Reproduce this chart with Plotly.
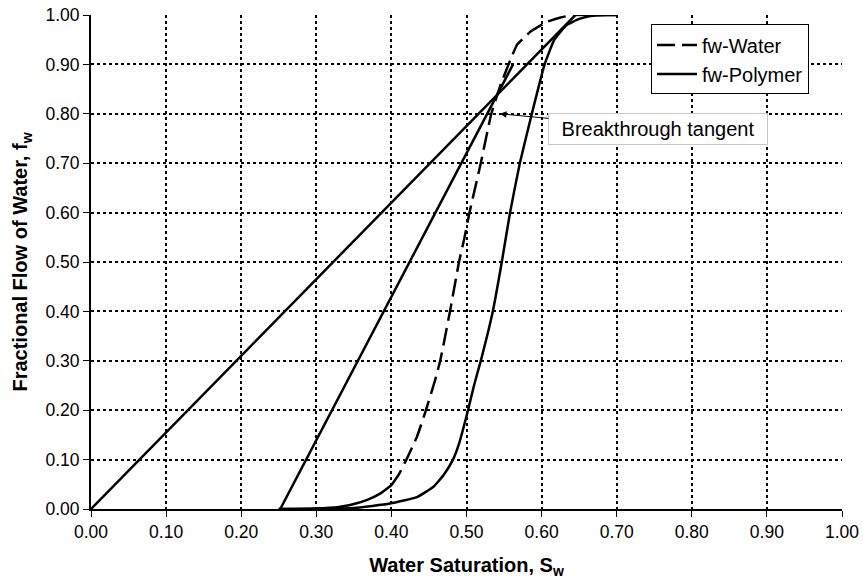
import plotly.graph_objects as go

# Water fractional flow curve
sw_water = [0.25, 0.30, 0.33, 0.345, 0.367, 0.385, 0.400, 0.410, 0.420, 0.434, 0.446,
            0.458, 0.465, 0.471, 0.478, 0.490, 0.497, 0.504, 0.519, 0.533, 0.545,
            0.556, 0.567, 0.585, 0.607, 0.625, 0.642, 0.70]
fw_water = [0.000, 0.001, 0.004, 0.008, 0.018, 0.031, 0.048, 0.070, 0.100, 0.146, 0.200,
            0.260, 0.300, 0.345, 0.400, 0.500, 0.547, 0.600, 0.700, 0.800, 0.857,
            0.900, 0.939, 0.966, 0.986, 0.995, 1.000, 1.000]

# Polymer fractional flow curve
sw_poly = [0.25, 0.35, 0.398, 0.434, 0.456, 0.470, 0.482, 0.490, 0.502, 0.510, 0.519,
           0.535, 0.547, 0.558, 0.571, 0.587, 0.604, 0.617, 0.633, 0.650, 0.665, 0.687, 0.70]
fw_poly = [0.000, 0.002, 0.011, 0.024, 0.045, 0.070, 0.100, 0.132, 0.200, 0.250, 0.300,
           0.400, 0.500, 0.600, 0.700, 0.800, 0.900, 0.950, 0.979, 0.992, 0.998, 1.000, 1.000]

# Tangent lines
sw_tan_poly = [0.0, 0.645]
fw_tan_poly = [0.0, 1.0]
sw_tan_water = [0.252, 0.562]
fw_tan_water = [0.0, 0.90]

# Annotation target
bt_point = (0.5446, 0.800)

FONT = "Liberation Sans, Arial, sans-serif"
# in the original the flat toe of the water curve renders as a continuous stroke
TOE_END = 7

fig = go.Figure()
fig.add_trace(go.Scatter(x=sw_tan_poly, y=fw_tan_poly, mode="lines",
                         line=dict(color="black", width=2.5), showlegend=False, hoverinfo="skip"))
fig.add_trace(go.Scatter(x=sw_tan_water, y=fw_tan_water, mode="lines",
                         line=dict(color="black", width=2.5), showlegend=False, hoverinfo="skip"))
fig.add_trace(go.Scatter(x=sw_water[:TOE_END], y=fw_water[:TOE_END], mode="lines",
                         line=dict(color="black", width=2.5, shape="spline", smoothing=0.3),
                         showlegend=False, hoverinfo="skip"))
fig.add_trace(go.Scatter(x=sw_water[TOE_END - 1:], y=fw_water[TOE_END - 1:], mode="lines", name="fw-Water",
                         line=dict(color="black", width=2.5, dash="18px,7px", shape="spline", smoothing=0.3)))
fig.add_trace(go.Scatter(x=sw_poly, y=fw_poly, mode="lines", name="fw-Polymer",
                         line=dict(color="black", width=2.5, shape="spline", smoothing=0.4)))

fig.add_annotation(x=bt_point[0], y=bt_point[1], xref="x", yref="y",
                   text="Breakthrough tangent", showarrow=True,
                   ax=158, ay=15, axref="pixel", ayref="pixel",
                   arrowhead=2, arrowsize=1.3, arrowwidth=1, arrowcolor="black",
                   font=dict(family=FONT, size=20, color="black"),
                   bgcolor="white", bordercolor="#c8c8c8", borderwidth=1, borderpad=4,
                   width=210)

axis_common = dict(range=[0, 1], dtick=0.1, tick0=0, tickformat=".2f",
                   showgrid=True, gridcolor="black", gridwidth=2, griddash="dot",
                   showline=True, linecolor="black", linewidth=2,
                   ticks="outside", ticklen=6, tickwidth=1, tickcolor="black",
                   zeroline=False, mirror=False, automargin=False,
                   tickfont=dict(family=FONT, size=17.5, color="black"))

fig.update_xaxes(**axis_common,
                 title=dict(text="Water Saturation, S<sub>w</sub>", standoff=17,
                            font=dict(family=FONT, size=20, color="black", weight="bold")))
fig.update_yaxes(**axis_common,
                 title=dict(text="Fractional Flow of Water, f<sub>w</sub>", standoff=12,
                            font=dict(family=FONT, size=20, color="black", weight="bold")))

fig.update_layout(
    width=863, height=580,
    margin=dict(l=91, r=21, t=15, b=71, autoexpand=False),
    plot_bgcolor="white", paper_bgcolor="white",
    font=dict(family=FONT, color="black"),
    legend=dict(x=0.7457, y=0.981, xanchor="left", yanchor="top",
                bgcolor="white", bordercolor="black", borderwidth=1,
                font=dict(family=FONT, size=20, color="black"),
                itemwidth=40, tracegroupgap=0),
    showlegend=True,
)

fig.write_html("out.html")
